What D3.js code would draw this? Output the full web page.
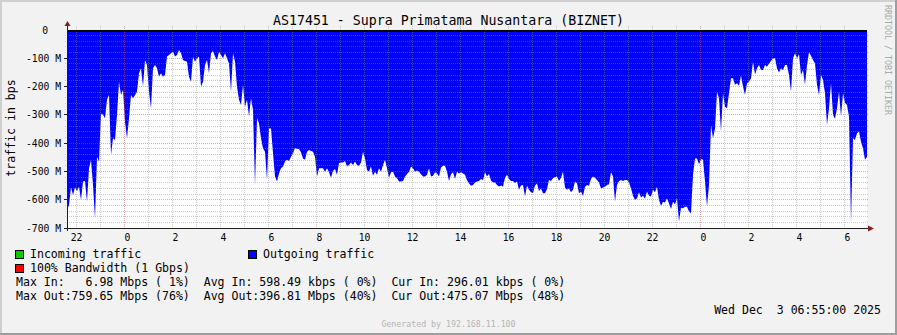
<!DOCTYPE html>
<html>
<head>
<meta charset="utf-8">
<script src="https://cdn.jsdelivr.net/npm/d3@7"></script>
<style>
body { margin: 0; background: #f2f2f2; }
svg { display: block; }
text { font-family: "DejaVu Sans Mono", monospace; fill: #000; }
</style>
</head>
<body>
<svg id="svg" width="897" height="335"></svg>
<script>
const width = 897;
const height = 335;

const plot = {left: 67, top: 30, right: 867, bottom: 228};

const title = 'AS17451 - Supra Primatama Nusantara (BIZNET)';
const yTitle = 'traffic in bps';
const watermark = 'RRDTOOL / TOBI OETIKER';
const generated = 'Generated by 192.168.11.100';
const stamp = 'Wed Dec  3 06:55:00 2025';

// 5 minute samples, outgoing traffic in Mbps (drawn downwards)
const startTime = Date.UTC(2025, 11, 1, 21, 35);
const endTime = Date.UTC(2025, 11, 3, 6, 55);
const stepMinutes = 5;
const outMbps = [
	636, 619, 556, 583, 556, 569, 554, 601, 536, 534,
	607, 489, 460, 548, 666, 448, 465, 295, 300, 312,
	247, 230, 442, 383, 389, 300, 183, 230, 212, 324,
	383, 312, 230, 241, 230, 218, 153, 135, 200, 106,
	124, 218, 277, 135, 124, 135, 165, 153, 165, 159,
	94, 88, 82, 77, 94, 88, 71, 82, 106, 110,
	112, 165, 183, 94, 112, 100, 94, 200, 183, 124,
	106, 153, 82, 74, 94, 106, 77, 88, 100, 82,
	100, 118, 218, 82, 112, 200, 247, 265, 194, 271,
	247, 306, 241, 283, 548, 312, 330, 383, 418, 430,
	530, 348, 348, 436, 518, 536, 507, 489, 483, 465,
	459, 463, 448, 436, 416, 421, 421, 432, 454, 459,
	430, 424, 428, 430, 448, 518, 489, 489, 489, 501,
	489, 503, 522, 498, 491, 512, 471, 468, 468, 463,
	483, 477, 468, 477, 465, 477, 480, 468, 430, 454,
	495, 501, 483, 515, 501, 512, 489, 501, 477, 459,
	489, 522, 503, 501, 518, 524, 536, 536, 534, 518,
	510, 501, 483, 489, 501, 497, 501, 510, 518, 518,
	512, 489, 518, 515, 503, 507, 518, 486, 480, 480,
	501, 534, 510, 503, 527, 501, 507, 503, 507, 512,
	530, 543, 551, 548, 539, 536, 534, 527, 530, 503,
	518, 509, 532, 539, 539, 548, 553, 550, 554, 522,
	512, 527, 534, 534, 541, 536, 565, 550, 548, 589,
	550, 565, 574, 577, 550, 543, 569, 560, 577, 577,
	562, 530, 534, 524, 520, 518, 534, 522, 501, 557,
	565, 560, 574, 565, 536, 542, 577, 571, 587, 554,
	548, 551, 527, 518, 522, 530, 539, 560, 557, 554,
	548, 545, 503, 518, 607, 548, 534, 530, 534, 530,
	530, 539, 560, 586, 601, 595, 574, 592, 586, 597,
	571, 586, 589, 565, 574, 554, 601, 622, 607, 610,
	595, 613, 633, 607, 616, 595, 677, 628, 630, 625,
	625, 642, 648, 512, 454, 454, 475, 456, 459, 536,
	624, 548, 336, 383, 348, 218, 241, 359, 224, 271,
	277, 224, 171, 171, 194, 188, 197, 161, 200, 230,
	188, 183, 171, 112, 157, 135, 124, 141, 141, 124,
	130, 118, 110, 100, 100, 135, 150, 135, 141, 124,
	124, 159, 218, 100, 82, 100, 86, 159, 141, 194,
	124, 79, 91, 106, 118, 194, 230, 159, 177, 224,
	336, 277, 188, 300, 314, 277, 218, 306, 224, 257,
	265, 306, 683, 383, 389, 365, 359, 395, 418, 459,
	448
];

const yTicks = [0, -100, -200, -300, -400, -500, -600, -700];

const legendItems = [
	{label: 'Incoming traffic', color: '#00cc00', col: 0, row: 0},
	{label: 'Outgoing traffic', color: '#0000ff', col: 1, row: 0},
	{label: '100% Bandwidth (1 Gbps)', color: '#ff0000', col: 0, row: 1}
];

const statLines = [
	'Max In:   6.98 Mbps ( 1%)  Avg In: 598.49 kbps ( 0%)  Cur In: 296.01 kbps ( 0%)',
	'Max Out:759.65 Mbps (76%)  Avg Out:396.81 Mbps (40%)  Cur Out:475.07 Mbps (48%)'
];

const gridColor = 'rgba(143,143,143,0.45)';
const majorColor = 'rgba(222,79,79,0.5)';
const arrowColor = '#801f1f';
const axisColor = '#1f1f1f';

const svg = d3.select('#svg');

// frame
svg.append('rect').attr('width', width).attr('height', height).attr('fill', '#f2f2f2');
svg.append('path')
	.attr('d', `M0,0H${width}V2H2V${height}H0Z`)
	.attr('fill', '#cfcfcf');
svg.append('path')
	.attr('d', `M${width},${height}H0V${height - 2}H${width - 2}V0H${width}Z`)
	.attr('fill', '#9e9e9e');

const xScale = d3.scaleUtc()
	.domain([startTime, endTime])
	.range([plot.left, plot.right]);

const yScale = d3.scaleLinear()
	.domain([-700, 0])
	.range([plot.bottom, plot.top]);

const points = outMbps.map((v, i) => [startTime + i * stepMinutes * 60000, v]);

svg.append('clipPath').attr('id', 'clip')
	.append('rect')
	.attr('x', plot.left)
	.attr('y', plot.top)
	.attr('width', plot.right - plot.left)
	.attr('height', plot.bottom - plot.top);

svg.append('rect')
	.attr('x', plot.left)
	.attr('y', plot.top)
	.attr('width', plot.right - plot.left)
	.attr('height', plot.bottom - plot.top)
	.attr('fill', '#fff');

const area = d3.area()
	.x(d => xScale(d[0]))
	.y0(yScale(0))
	.y1(d => yScale(-d[1]));

svg.append('path')
	.datum(points)
	.attr('clip-path', 'url(#clip)')
	.attr('fill', '#0000ff')
	.attr('d', area);

// grid on top of the area
const grid = svg.append('g').attr('shape-rendering', 'crispEdges');

const hours = d3.utcHours(startTime, endTime);
grid.selectAll(null)
	.data(hours)
	.enter()
	.append('line')
	.attr('x1', d => Math.round(xScale(d)) - 0.5)
	.attr('x2', d => Math.round(xScale(d)) - 0.5)
	.attr('y1', plot.top - 4)
	.attr('y2', plot.bottom + 2)
	.attr('stroke', d => d.getUTCHours() === 0 ? majorColor : gridColor)
	.attr('stroke-dasharray', '1,1');

const yGrid = d3.range(-680, 0, 20);
grid.selectAll(null)
	.data(yGrid)
	.enter()
	.append('line')
	.attr('x1', plot.left - 2)
	.attr('x2', plot.right + 2)
	.attr('y1', d => Math.floor(yScale(d)) + 0.5)
	.attr('y2', d => Math.floor(yScale(d)) + 0.5)
	.attr('stroke', d => d % 100 === 0 ? majorColor : gridColor)
	.attr('stroke-dasharray', '1,1');

// y ticks left of the axis
grid.selectAll(null)
	.data(yTicks.slice(1))
	.enter()
	.append('line')
	.attr('x1', plot.left - 3)
	.attr('x2', plot.left)
	.attr('y1', d => Math.floor(yScale(d)) + 0.5)
	.attr('y2', d => Math.floor(yScale(d)) + 0.5)
	.attr('stroke', axisColor);

// zero line
svg.append('line')
	.attr('x1', plot.left)
	.attr('x2', plot.right)
	.attr('y1', plot.top + 1)
	.attr('y2', plot.top + 1)
	.attr('stroke', '#000')
	.attr('stroke-width', 2);

// axes
svg.append('line')
	.attr('x1', plot.left + 0.5).attr('x2', plot.left + 0.5)
	.attr('y1', plot.bottom + 3).attr('y2', plot.top - 6)
	.attr('stroke', axisColor);
svg.append('line')
	.attr('x1', plot.left - 3).attr('x2', plot.right + 2)
	.attr('y1', plot.bottom + 0.5).attr('y2', plot.bottom + 0.5)
	.attr('stroke', axisColor);
svg.append('path')
	.attr('d', `M${plot.left - 2.5},${plot.top - 4}L${plot.left + 3.5},${plot.top - 4}L${plot.left + 0.5},${plot.top - 9}Z`)
	.attr('fill', arrowColor);
svg.append('path')
	.attr('d', `M${plot.right + 1},${plot.bottom - 2.5}L${plot.right + 1},${plot.bottom + 3.5}L${plot.right + 7},${plot.bottom + 0.5}Z`)
	.attr('fill', arrowColor);

// tick labels
svg.selectAll(null)
	.data(yTicks)
	.enter()
	.append('text')
	.attr('x', d => d === 0 ? 48 : 61)
	.attr('y', d => yScale(d) + 3.6)
	.attr('text-anchor', 'end')
	.attr('font-size', '9.7px')
	.text(d => d === 0 ? '0' : d + ' M');

// hour labels are space padded, so one digit hours sit half a character right of the line
const xTicks = d3.utcHour.every(2).range(startTime, endTime);
svg.selectAll(null)
	.data(xTicks)
	.enter()
	.append('text')
	.attr('x', d => Math.round(xScale(d)) - 0.5 + (d.getUTCHours() < 10 ? 2.9 : 0))
	.attr('y', 240.5)
	.attr('text-anchor', 'middle')
	.attr('font-size', '9.7px')
	.text(d => String(d.getUTCHours()));

// titles
svg.append('text')
	.attr('x', 448.5)
	.attr('y', 24.5)
	.attr('text-anchor', 'middle')
	.attr('font-size', '13.25px')
	.text(title);

svg.append('text')
	.attr('transform', 'translate(15,128) rotate(-90)')
	.attr('text-anchor', 'middle')
	.attr('font-size', '11.55px')
	.text(yTitle);

svg.append('text')
	.attr('transform', 'translate(885,5) rotate(90)')
	.attr('font-size', '8.3px')
	.style('fill', '#aaaaaa')
	.text(watermark);

// legend
const leg = svg.selectAll(null)
	.data(legendItems)
	.enter()
	.append('g')
	.attr('transform', d => `translate(${15 + d.col * 233},${250 + d.row * 14})`);
leg.append('rect')
	.attr('x', 0.5).attr('y', 0.5)
	.attr('width', 8).attr('height', 8)
	.attr('fill', d => d.color)
	.attr('stroke', '#000');
leg.append('text')
	.attr('x', 15)
	.attr('y', 8)
	.attr('font-size', '11.55px')
	.text(d => d.label);

svg.selectAll(null)
	.data(statLines)
	.enter()
	.append('text')
	.attr('x', 16)
	.attr('y', (d, i) => 286 + i * 14)
	.attr('font-size', '11.55px')
	.style('white-space', 'pre')
	.text(d => d);

svg.append('text')
	.attr('x', 881)
	.attr('y', 314)
	.attr('text-anchor', 'end')
	.attr('font-size', '11.55px')
	.style('white-space', 'pre')
	.text(stamp);

svg.append('text')
	.attr('x', 448.5)
	.attr('y', 327)
	.attr('text-anchor', 'middle')
	.attr('font-size', '8.25px')
	.style('fill', '#b4b4b4')
	.text(generated);
</script>
</body>
</html>
